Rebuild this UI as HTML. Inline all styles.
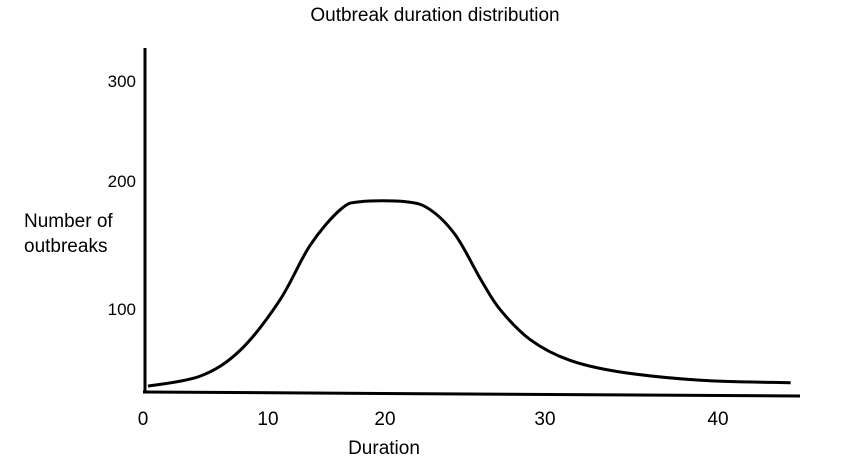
<!DOCTYPE html>
<html><head><meta charset="utf-8"><style>
html,body{margin:0;padding:0;background:#fff;width:860px;height:463px;overflow:hidden}
svg text{font-family:"Liberation Sans",sans-serif}
</style></head><body>
<svg id="chart" width="860" height="463">
<text x="435" y="21" text-anchor="middle" font-size="19">Outbreak duration distribution</text>
<text x="24" y="227" font-size="19"><tspan x="24">Number of</tspan><tspan x="24" dy="25">outbreaks</tspan></text>
<text x="384" y="454" text-anchor="middle" font-size="19">Duration</text>
<line x1="145" y1="48" x2="145" y2="392" stroke="#000" stroke-width="3"/>
<line x1="143" y1="392" x2="800" y2="396" stroke="#000" stroke-width="3"/>
<g id="xticks"></g><g id="yticks"></g>
<path id="curve" fill="none" stroke="#000" stroke-width="3" stroke-linejoin="round"/>
</svg>
<script>
const durations=[0.4,4.6,7.8,11.0,13.6,16.2,17.9,21.3,22.8,24.4,26.0,27.2,29.1,31.4,34.3,39.0,44.2];
const counts=[7,19,50,106,149,177,183,183,177,157,122,98,62,38,24,14,11];
const xTickValues=[0,10,20,30,40];
const xTickLabels=["0","10","20","30","40"];
const yTickValues=[100,200,300];
const yTickLabels=["100","200","300"];
// hand-drawn axes: piecewise-linear calibration
const xDom=[0,10,20,30,40], xRng=[143,268,385,545,718];
const yDom=[0,100,200,300], yRng=[392,308,180,80];
function pw(v,d,r){let i=1;while(i<d.length-1&&v>d[i])i++;const t=(v-d[i-1])/(d[i]-d[i-1]);return r[i-1]+t*(r[i]-r[i-1]);}
function xs(v){return pw(v,xDom,xRng);}
function ys(v){return pw(v,yDom,yRng);}
const ns="http://www.w3.org/2000/svg";
const xt=document.getElementById('xticks');
xTickValues.forEach((v,i)=>{const t=document.createElementNS(ns,'text');
t.setAttribute('x',xs(v));t.setAttribute('y',425);t.setAttribute('text-anchor','middle');t.setAttribute('font-size','19');
t.textContent=xTickLabels[i];


xt.appendChild(t);});
const yt=document.getElementById('yticks');
yTickValues.forEach((v,i)=>{const t=document.createElementNS(ns,'text');
t.setAttribute('x',136);t.setAttribute('y',ys(v)+7);t.setAttribute('text-anchor','end');t.setAttribute('font-size','17');
t.textContent=yTickLabels[i];


yt.appendChild(t);});
const P=durations.map((d,i)=>[xs(d),ys(counts[i])]);
let d='M'+P[0][0]+','+P[0][1];
for(let i=0;i<P.length-1;i++){const p0=P[Math.max(0,i-1)],p1=P[i],p2=P[i+1],p3=P[Math.min(P.length-1,i+2)];
const c1=[p1[0]+(p2[0]-p0[0])/6,p1[1]+(p2[1]-p0[1])/6],c2=[p2[0]-(p3[0]-p1[0])/6,p2[1]-(p3[1]-p1[1])/6];
d+=' C'+c1.join(',')+' '+c2.join(',')+' '+p2.join(',');}
const c=document.getElementById('curve');
c.setAttribute('d',d);


</script>
</body></html>
